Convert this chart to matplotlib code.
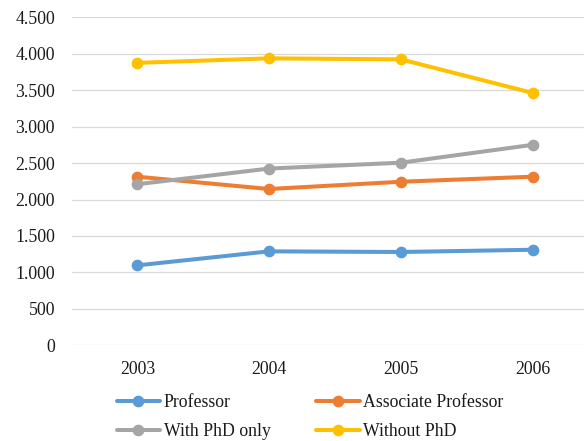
import matplotlib
matplotlib.use("Agg")
import matplotlib.pyplot as plt
from matplotlib.ticker import FuncFormatter, MultipleLocator

years = ["2003", "2004", "2005", "2006"]
professor = [1097, 1289, 1280, 1311]
associate_professor = [2313, 2144, 2244, 2313]
with_phd_only = [2210, 2425, 2505, 2750]
without_phd = [3875, 3937, 3923, 3463]

series = [
    ("Professor", professor, "#5B9BD5"),
    ("Associate Professor", associate_professor, "#ED7D31"),
    ("With PhD only", with_phd_only, "#A5A5A5"),
    ("Without PhD", without_phd, "#FFC000"),
]

plt.rcParams["font.family"] = ["Liberation Serif", "DejaVu Serif"]
FS = 12.8

fig = plt.figure(figsize=(5.84, 4.41), dpi=100)
ax = fig.add_axes([71.6 / 584, 1 - 345.3 / 441, 1 - 71.6 / 584, (345.3 - 17.3) / 441])

x = list(range(len(years)))
for name, vals, color in series:
    ax.plot(x, vals, color=color, lw=2.9, marker="o", ms=7.4,
            solid_capstyle="round", label=name, zorder=3, clip_on=False)

ax.set_ylim(0, 4500)
ax.set_xlim(-0.5, (584 - 137.8) / 131.6)
ax.yaxis.set_major_locator(MultipleLocator(500))
ax.yaxis.set_major_formatter(FuncFormatter(lambda v, p: f"{int(v):,}".replace(",", ".")))
ax.set_xticks(x)
ax.set_xticklabels(years)
ax.grid(axis="y", color="#D9D9D9", lw=0.9, zorder=0)
for s in ax.spines.values():
    s.set_visible(False)
ax.tick_params(axis="y", length=0, pad=12, labelsize=FS, labelcolor="#1a1a1a")
ax.tick_params(axis="x", length=0, pad=11, labelsize=FS, labelcolor="#1a1a1a")

# legend entries filled row by row across two columns
handles, labels = ax.get_legend_handles_labels()
order = [0, 2, 1, 3]
fig.legend([handles[i] for i in order], [labels[i] for i in order], ncol=2,
           loc="upper left", bbox_to_anchor=(116.7 / 584, 1 - 394 / 441),
           frameon=False, fontsize=FS, handlelength=2.45, handletextpad=0.2,
           columnspacing=2.55, labelspacing=0.7, borderpad=0, borderaxespad=0,
           labelcolor="#1a1a1a")

fig.savefig("out.png", dpi=100)
